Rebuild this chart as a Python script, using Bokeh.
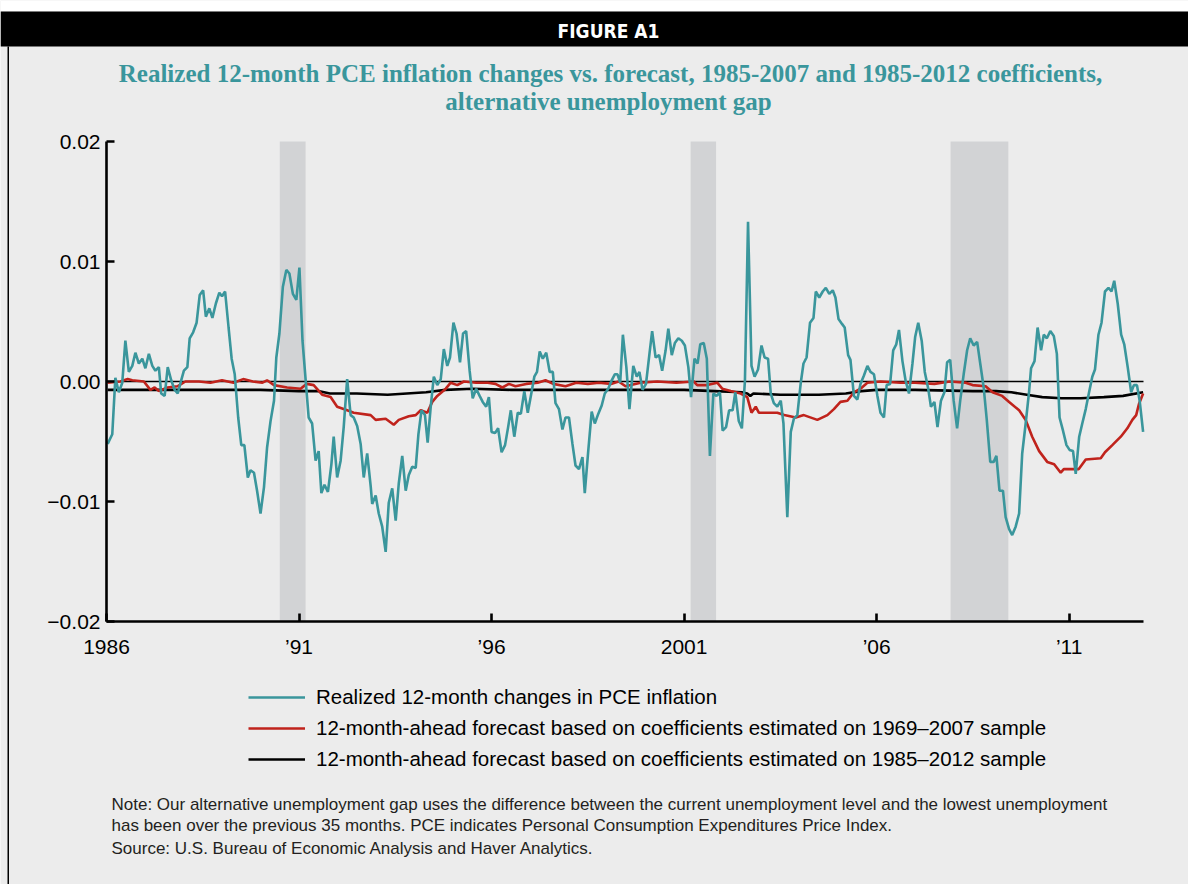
from bokeh.plotting import figure
from bokeh.models import (Range1d, FixedTicker, CustomJSTickFormatter, Label,
                          BoxAnnotation, Legend, LegendItem)
from bokeh.embed import file_html
from bokeh.resources import INLINE

# ---------------- data ----------------
realized = [
    (1986.03, -0.0052), (1986.15, -0.0044), (1986.23, 0.0003), (1986.32, -0.0009),
    (1986.41, -0.0001), (1986.49, 0.0034), (1986.58, 0.0008), (1986.67, 0.0013),
    (1986.75, 0.0024), (1986.84, 0.0015), (1986.93, 0.0019), (1987.01, 0.0011),
    (1987.10, 0.0023), (1987.19, 0.0013), (1987.27, 0.0009), (1987.36, 0.0012),
    (1987.42, -0.0010), (1987.51, -0.0012), (1987.59, 0.0012), (1987.68, 0.0001),
    (1987.77, -0.0007), (1987.85, -0.0010), (1987.94, 0.0001), (1988.01, 0.0009),
    (1988.10, 0.0012), (1988.16, 0.0036), (1988.25, 0.0041), (1988.34, 0.0049),
    (1988.42, 0.0072), (1988.51, 0.0076), (1988.58, 0.0054), (1988.67, 0.0061),
    (1988.75, 0.0053), (1988.84, 0.0065), (1988.93, 0.0074), (1989.00, 0.0071),
    (1989.08, 0.0075), (1989.17, 0.0045), (1989.25, 0.0019), (1989.33, 0.0006),
    (1989.42, -0.0030), (1989.50, -0.0053), (1989.58, -0.0053), (1989.67, -0.0080),
    (1989.74, -0.0074), (1989.83, -0.0076), (1989.91, -0.0091), (1990.00, -0.0110),
    (1990.09, -0.0088), (1990.17, -0.0055), (1990.26, -0.0033), (1990.35, -0.0016),
    (1990.41, 0.0020), (1990.49, 0.0040), (1990.58, 0.0079), (1990.67, 0.0093),
    (1990.75, 0.0090), (1990.84, 0.0073), (1990.93, 0.0068), (1991.01, 0.0095),
    (1991.09, 0.0034), (1991.18, -0.0002), (1991.25, -0.0030), (1991.34, -0.0035),
    (1991.43, -0.0066), (1991.51, -0.0058), (1991.58, -0.0093), (1991.66, -0.0086),
    (1991.75, -0.0092), (1991.84, -0.0069), (1991.90, -0.0046), (1991.99, -0.0080),
    (1992.08, -0.0066), (1992.16, -0.0038), (1992.25, 0.0002), (1992.34, -0.0028),
    (1992.42, -0.0030), (1992.51, -0.0037), (1992.60, -0.0052), (1992.68, -0.0080),
    (1992.77, -0.0060), (1992.86, -0.0087), (1992.90, -0.0102), (1992.99, -0.0095),
    (1993.07, -0.0110), (1993.16, -0.0121), (1993.25, -0.0142), (1993.33, -0.0101),
    (1993.42, -0.0089), (1993.51, -0.0116), (1993.59, -0.0085), (1993.68, -0.0062),
    (1993.77, -0.0091), (1993.85, -0.0078), (1993.94, -0.0071), (1994.03, -0.0072),
    (1994.10, -0.0044), (1994.18, -0.0024), (1994.27, -0.0028), (1994.34, -0.0051),
    (1994.42, -0.0021), (1994.50, 0.0004), (1994.59, -0.0003), (1994.68, 0.0002),
    (1994.76, 0.0027), (1994.85, 0.0013), (1994.92, 0.0020), (1995.01, 0.0049),
    (1995.09, 0.0040), (1995.18, 0.0016), (1995.26, 0.0040), (1995.34, 0.0042),
    (1995.43, 0.0009), (1995.51, -0.0014), (1995.60, -0.0006), (1995.69, -0.0012),
    (1995.77, -0.0017), (1995.86, -0.0021), (1995.93, -0.0013), (1996.00, -0.0042),
    (1996.09, -0.0043), (1996.17, -0.0039), (1996.26, -0.0059), (1996.35, -0.0053),
    (1996.43, -0.0038), (1996.50, -0.0024), (1996.59, -0.0046), (1996.68, -0.0026),
    (1996.76, -0.0027), (1996.85, -0.0008), (1996.94, -0.0026), (1997.02, -0.0012),
    (1997.11, 0.0004), (1997.18, 0.0008), (1997.25, 0.0025), (1997.33, 0.0019),
    (1997.42, 0.0024), (1997.51, 0.0008), (1997.59, 0.0008), (1997.66, -0.0018),
    (1997.75, -0.0023), (1997.84, -0.0040), (1997.92, -0.0030), (1998.01, -0.0030),
    (1998.10, -0.0052), (1998.18, -0.0070), (1998.27, -0.0073), (1998.36, -0.0063),
    (1998.42, -0.0093), (1998.51, -0.0058), (1998.60, -0.0025), (1998.68, -0.0035),
    (1998.77, -0.0027), (1998.86, -0.0020), (1998.94, -0.0010), (1999.03, -0.0006),
    (1999.12, 0.0001), (1999.20, 0.0006), (1999.27, 0.0006), (1999.34, -0.0001),
    (1999.41, 0.0039), (1999.50, 0.0012), (1999.58, -0.0023), (1999.68, 0.0013),
    (1999.77, 0.0004), (1999.84, 0.0008), (1999.92, -0.0007), (2000.01, -0.0002),
    (2000.10, 0.0023), (2000.17, 0.0042), (2000.26, 0.0020), (2000.35, 0.0022),
    (2000.43, 0.0009), (2000.52, 0.0026), (2000.59, 0.0044), (2000.68, 0.0022),
    (2000.76, 0.0032), (2000.85, 0.0036), (2000.94, 0.0034), (2001.02, 0.0030),
    (2001.11, 0.0012), (2001.18, -0.0013), (2001.27, 0.0019), (2001.35, 0.0015),
    (2001.42, 0.0031), (2001.51, 0.0032), (2001.59, 0.0019), (2001.67, -0.0062),
    (2001.76, -0.0010), (2001.84, -0.0012), (2001.93, -0.0009), (2002.00, -0.0041),
    (2002.09, -0.0038), (2002.17, -0.0024), (2002.26, -0.0024), (2002.33, -0.0009),
    (2002.42, -0.0033), (2002.50, -0.0039), (2002.58, 0.0001), (2002.66, 0.0133),
    (2002.75, 0.0013), (2002.83, 0.0004), (2002.92, 0.0010), (2003.01, 0.0030),
    (2003.09, 0.0020), (2003.18, 0.0019), (2003.25, -0.0010), (2003.33, -0.0018),
    (2003.42, -0.0021), (2003.51, -0.0016), (2003.58, -0.0035), (2003.68, -0.0113),
    (2003.77, -0.0042), (2003.85, -0.0031), (2003.94, -0.0028), (2004.03, -0.0001),
    (2004.10, 0.0015), (2004.18, 0.0020), (2004.27, 0.0049), (2004.36, 0.0053),
    (2004.42, 0.0075), (2004.51, 0.0070), (2004.60, 0.0075), (2004.68, 0.0078),
    (2004.77, 0.0073), (2004.86, 0.0076), (2004.93, 0.0070), (2005.01, 0.0052),
    (2005.10, 0.0048), (2005.17, 0.0045), (2005.26, 0.0022), (2005.32, 0.0018),
    (2005.41, -0.0012), (2005.50, -0.0015), (2005.58, -0.0002), (2005.67, 0.0005),
    (2005.76, 0.0013), (2005.84, 0.0008), (2005.93, 0.0006), (2006.02, -0.0012),
    (2006.10, -0.0026), (2006.19, -0.0030), (2006.26, -0.0003), (2006.35, -0.0002),
    (2006.43, 0.0026), (2006.51, 0.0031), (2006.58, 0.0043), (2006.67, 0.0017),
    (2006.75, 0.0001), (2006.84, -0.0010), (2006.93, 0.0015), (2007.00, 0.0037),
    (2007.08, 0.0049), (2007.17, 0.0034), (2007.25, 0.0008), (2007.34, -0.0006),
    (2007.41, -0.0021), (2007.50, -0.0017), (2007.58, -0.0038), (2007.67, -0.0016),
    (2007.76, -0.0009), (2007.83, 0.0016), (2007.91, 0.0018), (2008.00, -0.0016),
    (2008.09, -0.0039), (2008.17, -0.0016), (2008.26, 0.0006), (2008.35, 0.0026),
    (2008.43, 0.0036), (2008.52, 0.0030), (2008.61, 0.0033), (2008.69, 0.0015),
    (2008.78, -0.0005), (2008.86, -0.0032), (2008.95, -0.0067), (2009.04, -0.0067),
    (2009.11, -0.0062), (2009.19, -0.0091), (2009.28, -0.0091), (2009.35, -0.0113),
    (2009.44, -0.0123), (2009.52, -0.0128), (2009.61, -0.0121), (2009.70, -0.0110),
    (2009.78, -0.0060), (2009.87, -0.0035), (2009.96, -0.0008), (2010.01, 0.0011),
    (2010.10, 0.0017), (2010.18, 0.0045), (2010.27, 0.0026), (2010.34, 0.0039),
    (2010.42, 0.0036), (2010.51, 0.0042), (2010.60, 0.0038), (2010.68, 0.0023),
    (2010.75, -0.0030), (2010.84, -0.0041), (2010.93, -0.0053), (2011.01, -0.0057),
    (2011.10, -0.0058), (2011.17, -0.0077), (2011.26, -0.0046), (2011.34, -0.0035),
    (2011.43, -0.0023), (2011.51, -0.0010), (2011.60, 0.0004), (2011.67, 0.0010),
    (2011.76, 0.0039), (2011.84, 0.0049), (2011.93, 0.0075), (2012.02, 0.0078),
    (2012.10, 0.0075), (2012.17, 0.0084), (2012.26, 0.0065), (2012.35, 0.0039),
    (2012.43, 0.0031), (2012.52, 0.0012), (2012.61, -0.0009), (2012.68, -0.0003),
    (2012.76, -0.0003), (2012.83, -0.0016), (2012.92, -0.0042),
]

forecast_6907 = [
    (1986.03, -0.0001), (1986.36, 0.0000), (1986.55, 0.0002), (1986.67, 0.0001),
    (1986.97, 0.0000), (1987.14, -0.0007), (1987.25, -0.0005), (1987.36, -0.0008),
    (1987.58, -0.0005), (1987.84, -0.0004), (1988.05, 0.0000), (1988.40, 0.0000),
    (1988.70, -0.0001), (1989.00, 0.0001), (1989.30, -0.0001), (1989.55, 0.0002),
    (1989.80, 0.0000), (1990.05, -0.0001), (1990.17, 0.0001), (1990.35, -0.0003),
    (1990.69, -0.0005), (1991.04, -0.0006), (1991.20, -0.0002), (1991.38, -0.0003),
    (1991.60, -0.0011), (1991.82, -0.0013), (1991.99, -0.0021), (1992.25, -0.0024),
    (1992.42, -0.0026), (1992.86, -0.0028), (1992.99, -0.0032), (1993.25, -0.0031),
    (1993.46, -0.0036), (1993.59, -0.0032), (1993.85, -0.0029), (1994.03, -0.0028),
    (1994.16, -0.0024), (1994.33, -0.0026), (1994.46, -0.0017), (1994.59, -0.0012),
    (1994.81, -0.0006), (1994.94, -0.0001), (1995.11, -0.0003), (1995.28, 0.0000),
    (1995.60, -0.0001), (1995.90, -0.0001), (1996.10, -0.0002), (1996.28, -0.0005),
    (1996.45, -0.0002), (1996.62, -0.0004), (1996.90, -0.0002), (1997.20, -0.0001),
    (1997.40, 0.0001), (1997.60, -0.0002), (1997.92, -0.0004), (1998.20, -0.0001),
    (1998.50, -0.0002), (1998.79, -0.0001), (1999.10, -0.0002), (1999.30, 0.0000),
    (1999.48, -0.0004), (1999.87, -0.0001), (2000.30, 0.0000), (2000.80, -0.0001),
    (2001.25, 0.0000), (2001.34, -0.0003), (2001.60, -0.0003), (2001.86, -0.0001),
    (2001.99, -0.0006), (2002.21, -0.0008), (2002.47, -0.0010), (2002.64, -0.0013),
    (2002.75, -0.0026), (2002.86, -0.0021), (2002.94, -0.0026), (2003.42, -0.0026),
    (2003.60, -0.0028), (2003.90, -0.0030), (2004.11, -0.0028), (2004.46, -0.0032),
    (2004.72, -0.0028), (2004.89, -0.0023), (2005.06, -0.0017), (2005.24, -0.0016),
    (2005.41, -0.0009), (2005.58, -0.0006), (2005.76, -0.0001), (2006.10, 0.0000),
    (2006.62, -0.0001), (2007.00, -0.0001), (2007.50, -0.0002), (2007.90, 0.0000),
    (2008.31, -0.0001), (2008.49, -0.0003), (2008.83, -0.0004), (2009.01, -0.0009),
    (2009.26, -0.0012), (2009.44, -0.0017), (2009.70, -0.0024), (2009.87, -0.0032),
    (2010.04, -0.0046), (2010.22, -0.0058), (2010.43, -0.0067), (2010.61, -0.0069),
    (2010.78, -0.0076), (2010.86, -0.0073), (2011.25, -0.0073), (2011.43, -0.0065),
    (2011.82, -0.0064), (2011.93, -0.0059), (2012.12, -0.0053), (2012.34, -0.0046),
    (2012.51, -0.0039), (2012.64, -0.0032), (2012.74, -0.0028), (2012.81, -0.0019),
    (2012.92, -0.0010),
]

forecast_8512 = [
    (1986.03, -0.0007), (1987.00, -0.0007), (1988.00, -0.0007), (1989.00, -0.0007),
    (1990.00, -0.0007), (1991.00, -0.0008), (1991.50, -0.0008), (1991.80, -0.0010),
    (1992.50, -0.0010), (1993.30, -0.0011), (1993.80, -0.0010), (1994.30, -0.0009),
    (1994.80, -0.0007), (1995.50, -0.0006), (1996.50, -0.0007), (1998.00, -0.0007),
    (1999.50, -0.0007), (2001.00, -0.0007), (2001.80, -0.0008), (2002.50, -0.0009),
    (2002.64, -0.0010), (2002.72, -0.0012), (2002.80, -0.0010), (2003.50, -0.0011),
    (2004.50, -0.0011), (2005.20, -0.0010), (2005.60, -0.0008), (2006.00, -0.0007),
    (2007.00, -0.0007), (2008.50, -0.0008), (2009.10, -0.0008), (2009.50, -0.0009),
    (2009.90, -0.0011), (2010.30, -0.0013), (2010.80, -0.0014), (2011.30, -0.0014),
    (2011.90, -0.0013), (2012.40, -0.0012), (2012.92, -0.0009),
]

recession_start = [1990.50, 2001.17, 2007.92]
recession_end = [1991.17, 2001.83, 2009.42]

x_ticks = [1986, 1991, 1996, 2001, 2006, 2011]
y_ticks = [-0.02, -0.01, 0.0, 0.01, 0.02]

legend_labels = [
    "Realized 12-month changes in PCE inflation",
    "12-month-ahead forecast based on coefficients estimated on 1969\u20132007 sample",
    "12-month-ahead forecast based on coefficients estimated on 1985\u20132012 sample",
]

header_text = "FIGURE A1"
title_lines = [
    "Realized 12-month PCE inflation changes vs. forecast, 1985-2007 and 1985-2012 coefficients,",
    "alternative unemployment gap",
]
note_lines = [
    "Note: Our alternative unemployment gap uses the difference between the current unemployment level and the lowest unemployment",
    "has been over the previous 35 months. PCE indicates Personal Consumption Expenditures Price Index.",
    "Source: U.S. Bureau of Economic Analysis and Haver Analytics.",
]

# ---------------- styling / layout ----------------
TEAL = "#3a969c"
RED = "#c0231c"
PANEL = "#ececec"
SHADE = "#d2d3d5"
SANS = "Liberation Sans"

W, H = 1188, 884
# plot area in canvas pixels
PX_L, PX_R, PY_T, PY_B = 106, 1143, 141, 621
X_MIN, X_MAX = 1986.0, 2012.93
Y_MIN, Y_MAX = -0.02, 0.02
kx = (PX_R - PX_L) / (X_MAX - X_MIN)
ky = (PY_B - PY_T) / (Y_MAX - Y_MIN)
# the frame fills the whole canvas; axes are pinned at the plot area edges
x_range = Range1d(X_MIN - PX_L / kx, X_MIN + (W - PX_L) / kx)
y_range = Range1d(Y_MIN - (H - PY_B) / ky, Y_MAX + PY_T / ky)

p = figure(width=W, height=H, output_backend="svg", toolbar_location=None,
           x_range=x_range, y_range=y_range, title=None,
           min_border=0, min_border_left=0, min_border_right=0,
           min_border_top=0, min_border_bottom=0)
p.background_fill_color = PANEL
p.border_fill_color = PANEL
p.outline_line_color = None
p.xgrid.visible = False
p.ygrid.visible = False

# recession shading
p.quad(left=recession_start, right=recession_end, bottom=Y_MIN, top=Y_MAX,
       fill_color=SHADE, line_color=None)
# zero line across the plot area
p.segment(x0=[X_MIN], x1=[X_MAX], y0=[0.0], y1=[0.0], line_color="black", line_width=1.6)

def xs(series):
    return [t for t, v in series]

def ys(series):
    return [v for t, v in series]

r_black = p.line(xs(forecast_8512), ys(forecast_8512), line_color="black", line_width=2.6)
r_red = p.line(xs(forecast_6907), ys(forecast_6907), line_color=RED, line_width=2.6)
r_teal = p.line(xs(realized), ys(realized), line_color=TEAL, line_width=2.6)

# axes
xa, ya = p.xaxis[0], p.yaxis[0]
xa.fixed_location = Y_MIN
xa.bounds = (X_MIN, X_MAX)
ya.fixed_location = X_MIN
ya.bounds = (Y_MIN, Y_MAX)
for ax in (xa, ya):
    ax.axis_line_width = 2.6
    ax.axis_line_color = "black"
    ax.major_tick_in = 8
    ax.major_tick_out = 0
    ax.major_tick_line_width = 2.6
    ax.minor_tick_line_color = None
    ax.major_label_text_font = SANS
    ax.major_label_text_font_size = "21px"
    ax.major_label_text_color = "black"

xa.ticker = FixedTicker(ticks=x_ticks)
xa.formatter = CustomJSTickFormatter(code="""
    const y = Math.round(tick);
    if (y == 1986 || y == 2001) return String(y);
    return '\u2019' + String(y).slice(2);
""")
xa.major_label_standoff = 13
ya.ticker = FixedTicker(ticks=y_ticks)
ya.formatter = CustomJSTickFormatter(code="""
    const s = Math.abs(tick).toFixed(2);
    return tick < -1e-9 ? '\u2212' + s : s;
""")
ya.major_label_standoff = 6

# page decorations (screen units: frame == canvas, y measured from bottom)
def sy(py):
    return H - py

def box(left, right, top, bottom, color):
    p.add_layout(BoxAnnotation(left=left, right=right, top=sy(top), bottom=sy(bottom),
                               left_units="screen", right_units="screen",
                               top_units="screen", bottom_units="screen",
                               fill_color=color, fill_alpha=1, line_color=None,
                               level="underlay"))

box(0, W, 0, 11, "white")
box(0, W, 11, 46, "black")
box(7, 8.5, 46, H, "black")

def label(text, px, py, size, color, font=SANS, style="normal", align="left"):
    p.add_layout(Label(x=px, y=sy(py), x_units="screen", y_units="screen",
                       text=text, text_font=font, text_font_size=size,
                       text_font_style=style, text_color=color,
                       text_align=align, text_baseline="middle"))

label(header_text, 608, 30, "19px", "white", font="DejaVu Sans Condensed",
      style="bold", align="center")
label(title_lines[0], 610, 73, "25px", TEAL, font="Liberation Serif", style="bold", align="center")
label(title_lines[1], 608, 101, "25px", TEAL, font="Liberation Serif", style="bold", align="center")
label(note_lines[0], 111, 804, "17px", "#231f20")
label(note_lines[1], 111, 825, "17px", "#231f20")
label(note_lines[2], 111, 848, "17px", "#231f20")

# legend
legend = Legend(items=[LegendItem(label=legend_labels[0], renderers=[r_teal]),
                       LegendItem(label=legend_labels[1], renderers=[r_red]),
                       LegendItem(label=legend_labels[2], renderers=[r_black])],
                location=(248, sy(771)))
legend.padding = 0
legend.margin = 0
legend.spacing = 7
legend.glyph_width = 57
legend.glyph_height = 24
legend.label_height = 24
legend.label_standoff = 11
legend.background_fill_alpha = 0
legend.border_line_alpha = 0
legend.label_text_font = SANS
legend.label_text_font_size = "20.5px"
legend.label_text_color = "black"
p.add_layout(legend)

open("out.html", "w").write(file_html(p, INLINE))
